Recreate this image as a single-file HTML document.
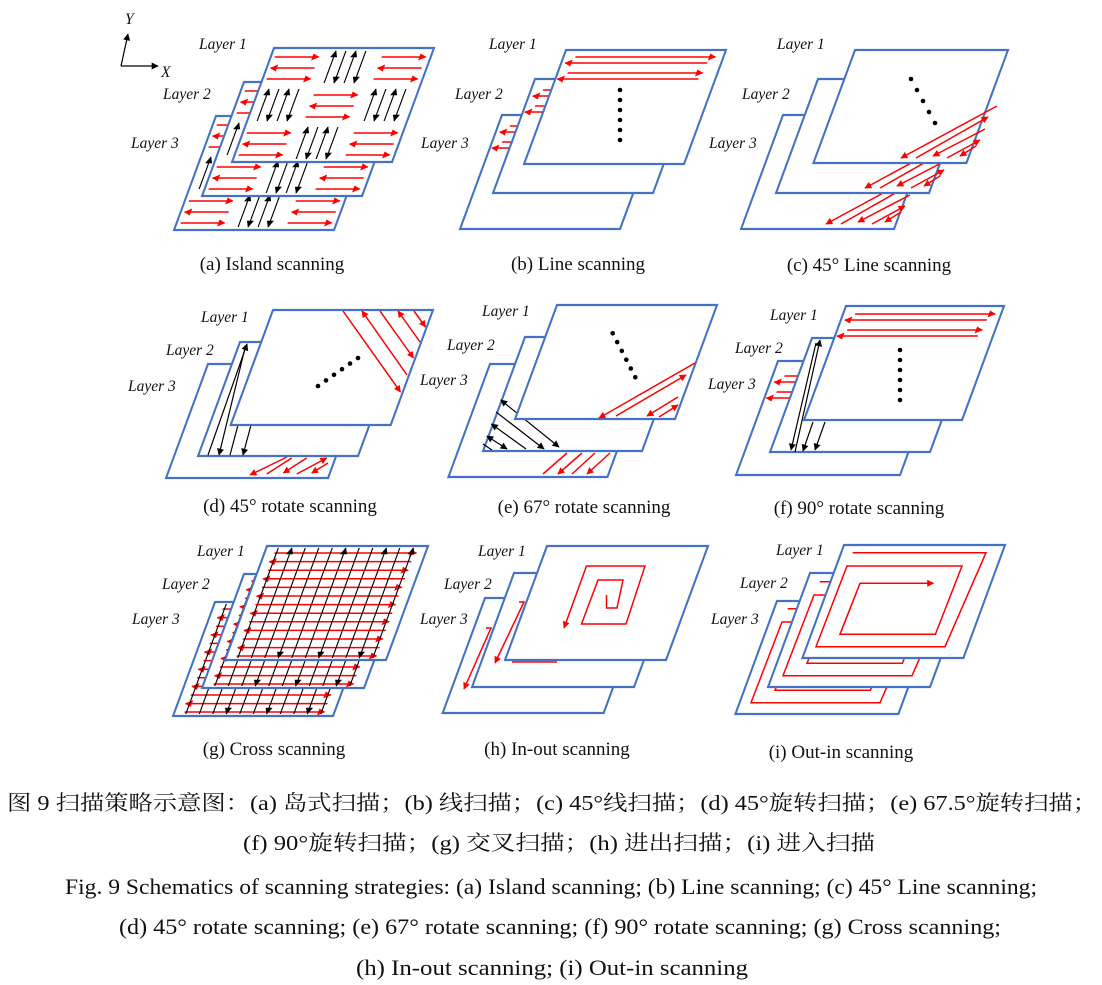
<!DOCTYPE html>
<html><head><meta charset="utf-8"><style>
html,body{margin:0;padding:0;background:#fff;}
svg{display:block}
.ly{fill:#fff;stroke:#4472c4;stroke-width:2.2}
.r{stroke:#f00;stroke-width:1.5;fill:none}
.k{stroke:#000;stroke-width:1.2;fill:none}
.lab{font-family:"Liberation Serif",serif;font-style:italic;font-size:15.5px;fill:#111}
.cap{font-family:"Liberation Serif",serif;font-size:19px;fill:#111;text-anchor:middle}
.t{font-family:"Liberation Serif","Noto Serif CJK SC",serif;font-size:22px;fill:#111;text-anchor:middle}
.tc{font-size:21px}
</style></head><body>
<svg width="1102" height="985" viewBox="0 0 1102 985" xmlns="http://www.w3.org/2000/svg">
<defs>
<marker id="ar" viewBox="0 0 10 10" refX="9" refY="5" markerWidth="8" markerHeight="7" markerUnits="userSpaceOnUse" orient="auto"><path d="M0,0L10,5L0,10z" fill="#f00"/></marker>
<marker id="ak" viewBox="0 0 10 10" refX="9" refY="5" markerWidth="8" markerHeight="7" markerUnits="userSpaceOnUse" orient="auto"><path d="M0,0L10,5L0,10z" fill="#000"/></marker>
<marker id="aks" viewBox="0 0 10 10" refX="1" refY="5" markerWidth="8" markerHeight="7" markerUnits="userSpaceOnUse" orient="auto"><path d="M10,0L0,5L10,10z" fill="#000"/></marker>
<g id="rc" class="r" marker-end="url(#ar)"><line x1="4" y1="9" x2="48" y2="9"/><line x1="48" y1="20" x2="4" y2="20"/><line x1="4" y1="31" x2="48" y2="31"/></g>
<g id="bc" class="k" marker-end="url(#ak)"><line x1="10" y1="35" x2="10" y2="3"/><line x1="20" y1="3" x2="20" y2="35"/><line x1="30" y1="35" x2="30" y2="3"/><line x1="40" y1="3" x2="40" y2="35"/></g>
<g id="isl">
<use href="#rc" x="0" y="0"/><use href="#bc" x="53" y="0"/><use href="#rc" x="107" y="0"/>
<use href="#bc" x="0" y="38"/><use href="#rc" x="53" y="38"/><use href="#bc" x="107" y="38"/>
<use href="#rc" x="0" y="76"/><use href="#bc" x="53" y="76"/><use href="#rc" x="107" y="76"/>
</g>
<g id="bl" class="r" marker-end="url(#ar)"><line x1="12" y1="7" x2="152" y2="7"/><line x1="146" y1="13" x2="4" y2="13"/><line x1="10" y1="23" x2="145" y2="23"/><line x1="143" y1="29" x2="2" y2="29"/></g>
<g id="cr">
<g class="r" marker-end="url(#ar)">
<line x1="10" y1="7" x2="152" y2="7"/><line x1="150" y1="15.6" x2="8" y2="15.6"/><line x1="10" y1="24.2" x2="150" y2="24.2"/><line x1="150" y1="32.8" x2="8" y2="32.8"/><line x1="10" y1="41.4" x2="150" y2="41.4"/><line x1="150" y1="50" x2="8" y2="50"/><line x1="10" y1="58.6" x2="150" y2="58.6"/><line x1="150" y1="67.2" x2="8" y2="67.2"/><line x1="10" y1="75.8" x2="150" y2="75.8"/><line x1="150" y1="84.4" x2="8" y2="84.4"/><line x1="10" y1="93" x2="150" y2="93"/><line x1="150" y1="101.6" x2="8" y2="101.6"/><line x1="10" y1="110" x2="150" y2="110"/>
</g>
<g class="k"><line x1="12" y1="2" x2="12" y2="112"/><line x1="25.5" y1="112" x2="25.5" y2="2" marker-end="url(#ak)"/><line x1="39" y1="2" x2="39" y2="112"/><line x1="52.5" y1="2" x2="52.5" y2="112" marker-end="url(#ak)"/><line x1="66" y1="2" x2="66" y2="112"/><line x1="79.5" y1="112" x2="79.5" y2="2" marker-end="url(#ak)"/><line x1="93" y1="2" x2="93" y2="112" marker-end="url(#ak)"/><line x1="106.5" y1="2" x2="106.5" y2="112"/><line x1="120" y1="112" x2="120" y2="2" marker-end="url(#ak)"/><line x1="133.5" y1="2" x2="133.5" y2="112" marker-end="url(#ak)"/><line x1="147" y1="112" x2="147" y2="2" marker-end="url(#ak)"/></g>
</g>
<g id="c45" class="r"><line x1="997" y1="106" x2="901" y2="158" marker-end="url(#ar)"/><line x1="916" y1="158" x2="988" y2="117" marker-end="url(#ar)"/><line x1="985" y1="129" x2="933" y2="156" marker-end="url(#ar)"/><line x1="947" y1="158" x2="980" y2="140" marker-end="url(#ar)"/><line x1="976" y1="146" x2="960" y2="156" marker-end="url(#ar)"/></g>
<g id="oi" class="r"><polyline points="852.7,552.7 986,552.7 945,646.7 816,646.7 847,566 962,566 935.4,634.3 840,634.3 860,583.3 933.5,583.3" marker-end="url(#ar)"/></g>
</defs>

<g class="k" stroke-width="1.4"><line x1="121" y1="66" x2="128" y2="34" marker-end="url(#ak)"/><line x1="121" y1="66" x2="158" y2="66" marker-end="url(#ak)"/></g>
<text x="125" y="24" class="lab" font-size="19">Y</text>
<text x="161" y="77" class="lab" font-size="19">X</text>

<g transform="matrix(1,0,-0.368,1,216,116)"><rect width="160" height="114" class="ly"/><use href="#isl"/></g>
<g transform="matrix(1,0,-0.368,1,244,82)"><rect width="160" height="114" class="ly"/><use href="#isl"/></g>
<g transform="matrix(1,0,-0.368,1,274,48)"><rect width="160" height="114" class="ly"/><use href="#isl"/></g>

<g transform="matrix(1,0,-0.368,1,502,115)"><rect width="160" height="114" class="ly"/><use href="#bl" y="4"/></g>
<g transform="matrix(1,0,-0.368,1,535,79)"><rect width="160" height="114" class="ly"/><use href="#bl" y="4"/></g>
<g transform="matrix(1,0,-0.368,1,566,50)"><rect width="160" height="114" class="ly"/><use href="#bl"/></g>
<g fill="#000"><circle cx="620" cy="90" r="2.3"/><circle cx="620" cy="100" r="2.3"/><circle cx="620" cy="110" r="2.3"/><circle cx="620" cy="120" r="2.3"/><circle cx="620" cy="130" r="2.3"/><circle cx="620" cy="140" r="2.3"/></g>

<g transform="matrix(1,0,-0.368,1,783,115)"><rect width="153" height="114" class="ly"/></g>
<use href="#c45" transform="translate(-75,66)"/>
<g transform="matrix(1,0,-0.368,1,818,79)"><rect width="153" height="114" class="ly"/></g>
<use href="#c45" transform="translate(-36,30)"/>
<g transform="matrix(1,0,-0.368,1,855,50)"><rect width="153" height="113" class="ly"/></g>
<use href="#c45"/>
<g fill="#000"><circle cx="911" cy="79" r="2.3"/><circle cx="917" cy="90" r="2.3"/><circle cx="923" cy="101" r="2.3"/><circle cx="929" cy="112" r="2.3"/><circle cx="935" cy="123" r="2.3"/></g>

<g transform="matrix(1,0,-0.368,1,208,364)"><rect width="162" height="114" class="ly"/></g>
<g class="r"><line x1="287" y1="457" x2="250" y2="475" marker-end="url(#ar)"/><line x1="266.7" y1="474" x2="291.7" y2="458"/><line x1="306.7" y1="458" x2="283.3" y2="473" marker-end="url(#ar)"/><line x1="296.7" y1="474" x2="326.7" y2="458" marker-end="url(#ar)"/><line x1="328" y1="463" x2="311.7" y2="473" marker-end="url(#ar)"/></g>
<g transform="matrix(1,0,-0.368,1,240,342)"><rect width="160" height="114" class="ly"/></g>
<g class="k"><line x1="208" y1="455" x2="247" y2="344" marker-end="url(#ak)"/><line x1="245" y1="348" x2="219" y2="455" marker-end="url(#ak)"/><line x1="251" y1="425" x2="243" y2="455" marker-end="url(#ak)"/><line x1="238" y1="425" x2="230" y2="455"/></g>
<g transform="matrix(1,0,-0.368,1,273,310)"><rect width="160" height="115" class="ly"/></g>
<g class="r" marker-end="url(#ar)"><line x1="343" y1="311" x2="400.5" y2="392"/><line x1="407" y1="375" x2="362" y2="311"/><line x1="380" y1="311" x2="413.5" y2="358"/><line x1="420" y1="342" x2="398" y2="311"/><line x1="414" y1="311" x2="425.5" y2="327"/></g>
<g fill="#000"><circle cx="318" cy="386" r="2.3"/><circle cx="326" cy="380.4" r="2.3"/><circle cx="334" cy="374.8" r="2.3"/><circle cx="342" cy="369.2" r="2.3"/><circle cx="350" cy="363.6" r="2.3"/><circle cx="358" cy="358" r="2.3"/></g>

<g transform="matrix(1,0,-0.368,1,490,364)"><rect width="159" height="113" class="ly"/></g>
<g class="r"><line x1="567" y1="453" x2="543" y2="474"/><line x1="582" y1="453" x2="558" y2="474" marker-end="url(#ar)"/><line x1="595" y1="453" x2="572" y2="474"/><line x1="610" y1="453" x2="587" y2="474" marker-end="url(#ar)"/></g>
<g transform="matrix(1,0,-0.368,1,525,337)"><rect width="159" height="114" class="ly"/></g>
<g class="k"><line x1="500.7" y1="400" x2="559" y2="447" marker-end="url(#ak)" marker-start="url(#aks)"/><line x1="496.1" y1="412" x2="544" y2="449" marker-end="url(#ak)"/><line x1="491.4" y1="424" x2="526" y2="449" marker-start="url(#aks)"/><line x1="486.8" y1="436" x2="507" y2="449" marker-end="url(#ak)" marker-start="url(#aks)"/><line x1="482.9" y1="444" x2="492" y2="450"/></g>
<g transform="matrix(1,0,-0.368,1,557,305)"><rect width="160" height="114" class="ly"/></g>
<g class="r"><line x1="695" y1="363" x2="599" y2="418" marker-end="url(#ar)"/><line x1="616" y1="416" x2="686" y2="375" marker-end="url(#ar)"/><line x1="678" y1="397" x2="647" y2="416" marker-end="url(#ar)"/><line x1="659" y1="417" x2="678" y2="405" marker-end="url(#ar)"/></g>
<g fill="#000"><circle cx="612.7" cy="333.3" r="2.3"/><circle cx="617.2" cy="342.1" r="2.3"/><circle cx="621.8" cy="350.9" r="2.3"/><circle cx="626.3" cy="359.7" r="2.3"/><circle cx="630.8" cy="368.5" r="2.3"/><circle cx="635.3" cy="377.3" r="2.3"/></g>

<g transform="matrix(1,0,-0.368,1,778,361)"><rect width="164" height="114" class="ly"/><use href="#bl" y="8"/></g>
<g transform="matrix(1,0,-0.368,1,812,338)"><rect width="160" height="114" class="ly"/></g>
<g class="k"><line x1="795" y1="452" x2="820" y2="340" marker-end="url(#ak)"/><line x1="816" y1="343" x2="791" y2="450" marker-end="url(#ak)"/><line x1="813" y1="422" x2="803" y2="451" marker-end="url(#ak)"/><line x1="825" y1="422" x2="815" y2="450" marker-end="url(#ak)"/></g>
<g transform="matrix(1,0,-0.368,1,846,306)"><rect width="158" height="114" class="ly"/><use href="#bl" y="1"/></g>
<g fill="#000"><circle cx="900" cy="350" r="2.3"/><circle cx="900" cy="360" r="2.3"/><circle cx="900" cy="370" r="2.3"/><circle cx="900" cy="380" r="2.3"/><circle cx="900" cy="390" r="2.3"/><circle cx="900" cy="400" r="2.3"/></g>

<g transform="matrix(1,0,-0.368,1,215,602)"><rect width="160" height="114" class="ly"/><use href="#cr"/></g>
<g transform="matrix(1,0,-0.368,1,244,574)"><rect width="162" height="114" class="ly"/><use href="#cr"/></g>
<g transform="matrix(1,0,-0.368,1,267,546)"><rect width="161" height="114" class="ly"/><use href="#cr"/></g>

<g transform="matrix(1,0,-0.368,1,485,598)"><rect width="161" height="115" class="ly"/></g>
<g class="r"><polyline points="486,628 491,628 464,689" marker-end="url(#ar)"/></g>
<g transform="matrix(1,0,-0.368,1,514,573)"><rect width="162" height="114" class="ly"/></g>
<g class="r"><polyline points="519,602 524,602 495,663" marker-end="url(#ar)"/><line x1="512" y1="662" x2="557" y2="662"/></g>
<g transform="matrix(1,0,-0.368,1,547,546)"><rect width="161" height="114" class="ly"/></g>
<polyline class="r" points="606.5,595 606.5,608 617,608 623,580 598,580 581.5,624 626,624 645,566 586.5,566 564,628" marker-end="url(#ar)"/>

<g transform="matrix(1,0,-0.368,1,777,601)"><rect width="163" height="113" class="ly"/></g>
<use href="#oi" transform="translate(-65,56)"/>
<g transform="matrix(1,0,-0.368,1,810,573)"><rect width="162" height="114" class="ly"/></g>
<use href="#oi" transform="translate(-33,29)"/>
<g transform="matrix(1,0,-0.368,1,844,545)"><rect width="161" height="113" class="ly"/></g>
<use href="#oi"/>

<g class="lab">
<text x="199" y="49">Layer 1</text><text x="163" y="99">Layer 2</text><text x="131" y="148">Layer 3</text>
<text x="489" y="49">Layer 1</text><text x="455" y="99">Layer 2</text><text x="421" y="148">Layer 3</text>
<text x="777" y="49">Layer 1</text><text x="742" y="99">Layer 2</text><text x="709" y="148">Layer 3</text>
<text x="201" y="322">Layer 1</text><text x="166" y="355">Layer 2</text><text x="128" y="391">Layer 3</text>
<text x="482" y="316">Layer 1</text><text x="447" y="350">Layer 2</text><text x="420" y="385">Layer 3</text>
<text x="770" y="320">Layer 1</text><text x="735" y="353">Layer 2</text><text x="708" y="389">Layer 3</text>
<text x="197" y="556">Layer 1</text><text x="162" y="589">Layer 2</text><text x="132" y="624">Layer 3</text>
<text x="478" y="556">Layer 1</text><text x="444" y="589">Layer 2</text><text x="420" y="624">Layer 3</text>
<text x="776" y="555">Layer 1</text><text x="740" y="588">Layer 2</text><text x="711" y="624">Layer 3</text>
</g>

<g class="cap">
<text x="272" y="270">(a) Island scanning</text>
<text x="578" y="270">(b) Line scanning</text>
<text x="869" y="271">(c) 45° Line scanning</text>
<text x="290" y="512">(d) 45° rotate scanning</text>
<text x="584" y="513">(e) 67° rotate scanning</text>
<text x="859" y="514">(f) 90° rotate scanning</text>
<text x="274" y="755">(g) Cross scanning</text>
<text x="557" y="755">(h) In-out scanning</text>
<text x="841" y="758">(i) Out-in scanning</text>
</g>

<text class="t tc" x="552" y="810" textLength="1090" lengthAdjust="spacingAndGlyphs">图 9  扫描策略示意图：(a)  岛式扫描；(b)  线扫描；(c) 45°线扫描；(d) 45°旋转扫描；(e) 67.5°旋转扫描；</text>
<text class="t tc" x="559" y="850" textLength="632" lengthAdjust="spacingAndGlyphs">(f) 90°旋转扫描；(g)  交叉扫描；(h)  进出扫描；(i)  进入扫描</text>
<text class="t" x="551" y="894" textLength="972" lengthAdjust="spacingAndGlyphs">Fig. 9 Schematics of scanning strategies: (a) Island scanning; (b) Line scanning; (c) 45° Line scanning;</text>
<text class="t" x="560" y="934" textLength="882" lengthAdjust="spacingAndGlyphs">(d) 45° rotate scanning; (e) 67° rotate scanning; (f) 90° rotate scanning; (g) Cross scanning;</text>
<text class="t" x="552" y="975" textLength="392" lengthAdjust="spacingAndGlyphs">(h) In-out scanning; (i) Out-in scanning</text>
</svg>
</body></html>
